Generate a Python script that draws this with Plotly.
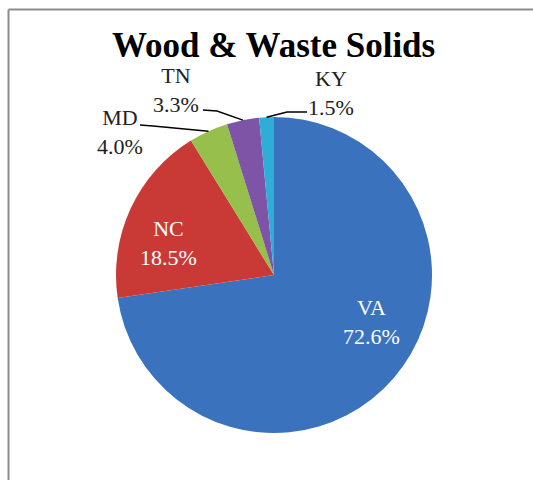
import math
import plotly.graph_objects as go

# ---- data ----
states = ["VA", "NC", "MD", "TN", "KY"]
shares = [72.6, 18.5, 4.0, 3.3, 1.5]
share_labels = ["72.6%", "18.5%", "4.0%", "3.3%", "1.5%"]
colors = ["#3a72bd", "#c93a37", "#96bf4c", "#7d54a6", "#2eaed6"]
title_text = "Wood & Waste Solids"

W, H = 533, 480
# pie placement in pixels
CX, CY, R = 274, 275, 158

def px(x):
    return x / W

def py(y):
    return 1 - y / H

fig = go.Figure(go.Pie(
    labels=states,
    values=shares,
    text=[f"{s}<br>{p}" for s, p in zip(states, share_labels)],
    textinfo="none",
    marker=dict(colors=colors, line=dict(width=0)),
    sort=False,
    direction="clockwise",
    rotation=0,
    showlegend=False,
    hoverinfo="label+text",
    domain=dict(x=[px(CX - R), px(CX + R)], y=[py(CY + R), py(CY - R)]),
))

total = sum(shares)
cum = 0
mids = []
for v in shares:
    mids.append((cum + v / 2) / total * 360)
    cum += v

# label block centre, and for outside labels: leader start and elbow (pixels)
label_pos = {
    "VA": ((371, 322), None, None),
    "NC": ((168, 243), None, None),
    "MD": ((120, 132), (140, 125), (153, 126)),
    "TN": ((176, 90), (203, 110), (217, 111)),
    "KY": ((331, 93), (307, 112), (287, 112)),
}

annotations = [dict(
    text=f"<b>{title_text}</b>", x=px(273), y=py(45), xref="paper", yref="paper",
    showarrow=False, xanchor="center", yanchor="middle", borderpad=0,
    font=dict(family="Liberation Serif", size=35, color="black"),
)]
shapes = []
for i, s in enumerate(states):
    (lx, ly), start, elbow = label_pos[s]
    is_inside = start is None
    annotations.append(dict(
        text=f"{s}<br>{share_labels[i]}", x=px(lx), y=py(ly), xref="paper", yref="paper",
        showarrow=False, xanchor="center", yanchor="middle", align="center", borderpad=0,
        font=dict(family="Liberation Serif", size=22,
                  color="white" if is_inside else "#222222"),
    ))
    if is_inside:
        continue
    a = math.radians(mids[i])
    edx = CX + R * math.sin(a)
    edy = CY - R * math.cos(a)
    (sx, sy), (ex, ey) = start, elbow
    path = f"M {px(sx)} {py(sy)} L {px(ex)} {py(ey)} L {px(edx)} {py(edy)}"
    shapes.append(dict(type="path", path=path, xref="paper", yref="paper",
                       line=dict(color="black", width=1.5)))

# chart frame (top and left edges visible)
shapes.append(dict(type="line", xref="paper", yref="paper", x0=px(8.5), x1=1.0,
                   y0=py(9.5), y1=py(9.5), line=dict(color="#8c8c8c", width=2)))
shapes.append(dict(type="line", xref="paper", yref="paper", x0=px(8.5), x1=px(8.5),
                   y0=py(9.5), y1=0.0, line=dict(color="#8c8c8c", width=2)))

fig.update_layout(
    width=W, height=H,
    margin=dict(l=0, r=0, t=0, b=0),
    paper_bgcolor="white", plot_bgcolor="white",
    annotations=annotations,
    shapes=shapes,
)

fig.write_html(
    "out.html",
    config={"displayModeBar": False},
    post_script=(
        "var de=document.documentElement, b=document.body;"
        "de.style.margin='0'; de.style.overflow='hidden'; de.style.scrollbarWidth='none';"
        "b.style.margin='0'; b.style.overflow='hidden'; b.style.scrollbarWidth='none';"
    ),
)
